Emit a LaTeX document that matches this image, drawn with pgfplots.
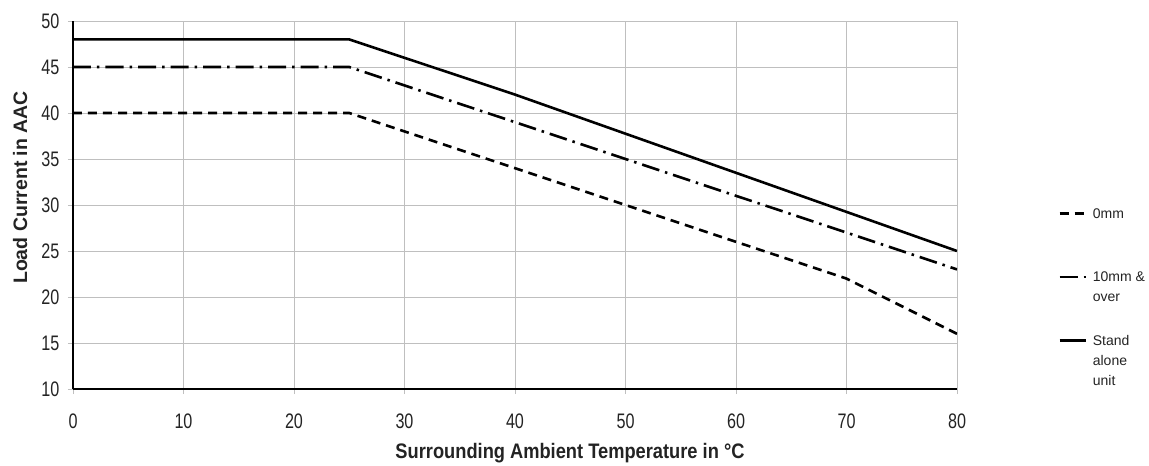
\documentclass[border=0pt]{standalone}
\usepackage{fontspec}
\setmainfont{Liberation Sans}
\newfontfamily\narrowfont{Liberation Sans}[FakeStretch=0.77]
\newfontfamily\labelfont{Liberation Sans}[FakeStretch=0.87]
\usepackage{pgfplots}
\pgfplotsset{compat=1.18}

\definecolor{gridgray}{RGB}{191,191,191}
\definecolor{textgray}{RGB}{35,35,35}

\begin{document}
\begin{tikzpicture}
\path[use as bounding box] (-73pt,-77pt) rectangle (1076pt,389pt);
\begin{axis}[
  at={(0pt,0pt)}, anchor=south west,
  scale only axis,
  width=884pt, height=368pt,
  xmin=0, xmax=80, ymin=10, ymax=50,
  xtick={0,10,...,80}, ytick={10,15,...,50},
  axis x line*=bottom, axis y line*=left,
  axis line style={-, black, line width=1.3pt},
  grid=major,
  major grid style={gridgray, line width=0.9pt},
  tick align=outside,
  major tick length=5pt,
  tick style={gridgray, line width=0.9pt},
  /pgf/number format/assume math mode=true,
  ticklabel style={font=\narrowfont\fontsize{21}{23}\selectfont, text=textgray},
  xticklabel style={yshift=-16pt},
  yticklabel style={xshift=-5pt},
  xlabel={Surrounding Ambient Temperature in °C},
  ylabel={Load Current in AAC},
  xlabel style={at={(axis description cs:0.5622,-0.190)}, anchor=base,
    font=\labelfont\bfseries\fontsize{21}{24}\selectfont, text=textgray},
  ylabel style={at={(axis description cs:-0.052,0.5476)}, anchor=base,
    font=\bfseries\fontsize{19.5}{24}\selectfont, text=textgray},
  legend image code/.code={\draw[#1] (0pt,23.5pt) -- (26pt,23.5pt);},
  legend style={at={(axis description cs:1.1143,0.5)}, anchor=north west,
    draw=none, fill=none, inner sep=0pt, column sep=5pt, row sep=0pt,
    font=\fontsize{14}{20}\selectfont, text=textgray,
    nodes={inner sep=1pt, text height=12pt, text depth=49.5pt}},
  legend cell align=left,
]
\addplot[black, line width=2.6pt, dash pattern=on 9pt off 6pt]
  coordinates {(0,40) (25,40) (70,22) (80,16)};
\addlegendentry{\parbox[t]{62pt}{0mm}}
\addplot[black, line width=2.6pt, dash pattern=on 18pt off 6pt on 2.5pt off 6pt]
  coordinates {(0,45) (25,45) (80,23)};
\addlegendentry{\parbox[t]{62pt}{10mm \&\\over}}
\addplot[black, line width=2.6pt]
  coordinates {(0,48) (25,48) (40,42) (80,25)};
\addlegendentry{\parbox[t]{62pt}{Stand\\alone\\unit}}
\end{axis}
\end{tikzpicture}
\end{document}
